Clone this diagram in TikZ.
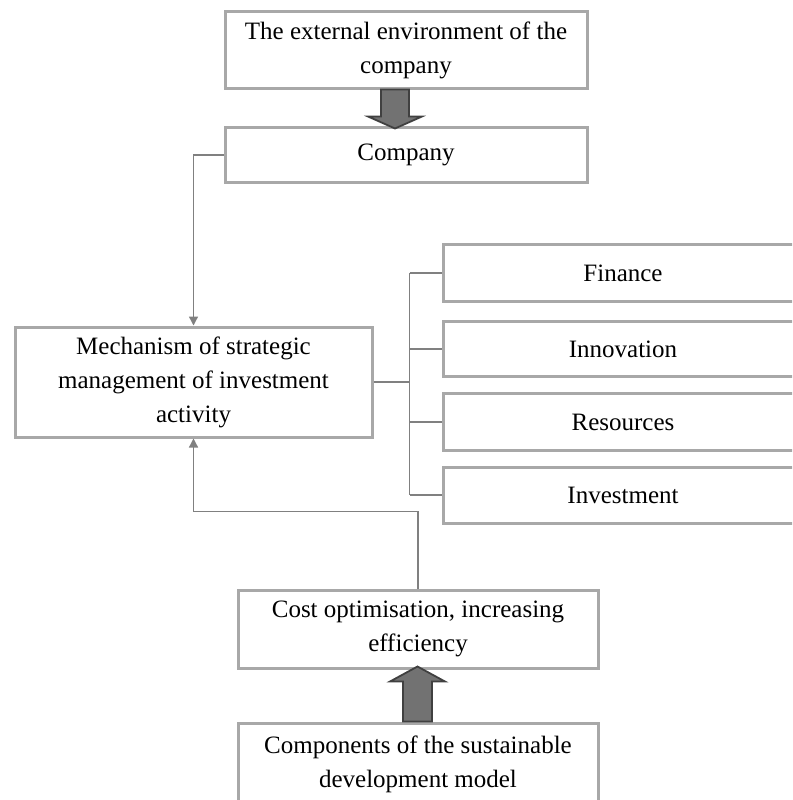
\documentclass[tikz,border=0pt]{standalone}
\usepackage{fontspec}
\setmainfont{Liberation Serif}
\usepackage{xcolor}
\usetikzlibrary{arrows.meta, calc}

\definecolor{boxgray}{HTML}{A8A8A8}
\definecolor{linegray}{HTML}{808080}
\definecolor{fatfill}{HTML}{727272}
\definecolor{fatedge}{HTML}{404040}

\begin{document}
\begin{tikzpicture}[
  x=1pt, y=-1pt,
  box/.style={rectangle, draw=boxgray, line width=3pt, fill=white, align=center,
    font=\fontsize{25}{34}\selectfont, inner sep=2pt},
  conn/.style={draw=linegray, line width=1.3pt},
  arrow/.style={conn, -{Triangle[length=9pt, width=9pt]}, color=linegray},
  fat/.style={fill=fatfill, draw=fatedge, line width=1.8pt, line join=miter}
]
\useasboundingbox (0,0) rectangle (792,800);
\clip (0,0) rectangle (792,800);

%% Boxes
\node[box, minimum width=362pt, minimum height=76pt] (env) at (406,50) {The external environment of the\\company};
\node[box, minimum width=362pt, minimum height=55pt] (company) at (406,155) {Company};
\node[box, minimum width=357pt, minimum height=110pt] (mech) at (193.5,382) {Mechanism of strategic\\management of investment\\activity};
\node[box, minimum width=360pt, minimum height=57pt] (finance) at (623,273) {Finance};
\node[box, minimum width=360pt, minimum height=55pt] (innov) at (623,349) {Innovation};
\node[box, minimum width=360pt, minimum height=57pt] (resour) at (623,422) {Resources};
\node[box, minimum width=360pt, minimum height=56pt] (invest) at (623,495) {Investment};
\node[box, minimum width=360pt, minimum height=78pt] (cost) at (418,629) {Cost optimisation, increasing\\efficiency};
\node[box, minimum width=360pt, minimum height=82pt] (comp) at (418,764) {Components of the sustainable\\development model};

%% Fat arrows
\draw[fat] ($(env.south)+(-25,0)$) -- ++(28,0) -- ++(0,27) -- ++(13,0) -- ++(-27,12) -- ++(-27,-12) -- ++(13,0) -- cycle;
\draw[fat] ($(comp.north)+(-15,0)$) -- ++(29,0) -- ++(0,-40) -- ++(13,0) -- ++(-27.5,-15) -- ++(-27.5,15) -- ++(13,0) -- cycle;

%% Arrows
\draw[arrow] (company.west) -| (mech.north);
\draw[arrow] (cost.north) -- ++(0,-77) -| (mech.south);

%% Branches
\draw[conn] (mech.east) -- ++(36,0) coordinate (bus);
\draw[conn] (bus |- finance.west) -- (bus |- invest.west);
\foreach \n in {finance, innov, resour, invest}
  \draw[conn] (bus |- \n.west) -- (\n.west);

\end{tikzpicture}
\end{document}
